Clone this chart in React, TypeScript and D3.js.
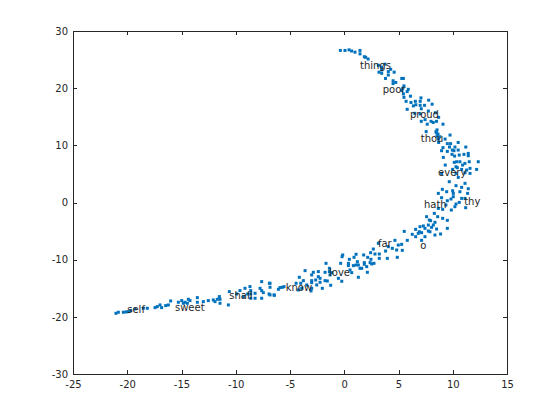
import React, { useEffect, useRef } from "react";
import * as d3 from "d3";

// word labels placed on the embedding
const words = ["things", "poor", "proud", "thou", "every", "hath", "thy", "far", "o", "love", "know", "shall", "sweet", "self"];
const wordX = [1.45, 3.55, 6.05, 7.05, 8.65, 7.35, 11.05, 3.1, 7, -1.4, -5.4, -10.6, -15.6, -20];
const wordY = [24, 19.7, 15.3, 11.2, 5.2, -0.4, 0.1, -7.2, -7.6, -12.3, -14.9, -16.3, -18.4, -18.8];

const xTicks = [-25, -20, -15, -10, -5, 0, 5, 10, 15];
const yTicks = [-30, -20, -10, 0, 10, 20, 30];

// scatter points, top of the arc first
const upperArm: [number, number][] = [
  [-0.36, 26.6], [0.07, 26.6], [0.44, 26.7], [0.68, 26.5], [0.99, 26.3], [1.45, 26.6], [1.45, 26.0], [1.85, 25.5],
  [1.97, 25.4], [2.2, 25.1], [3.14, 24.0], [3.45, 23.7], [3.75, 24.2], [3.45, 23.2], [4.28, 23.3], [3.2, 22.8],
  [3.45, 22.6], [4.06, 22.9], [4.06, 22.3], [4.6, 22.8], [3.8, 21.7], [5.3, 21.7], [5.45, 21.7], [4.5, 21.3],
  [4.5, 20.8], [4.75, 21.0], [5.5, 20.4], [5.4, 20.0], [5.9, 19.8], [5.8, 19.4], [5.3, 19.6], [5.45, 19.0],
  [5.5, 18.4], [6.1, 18.6], [5.7, 17.7], [6.15, 17.5], [6.55, 17.7], [7.07, 18.3], [7.0, 17.7], [7.78, 17.9],
  [8.1, 17.2], [6.37, 16.9], [6.6, 17.1], [7.0, 17.0], [7.4, 17.0], [7.1, 16.4], [5.8, 16.3], [6.5, 15.6],
  [7.0, 15.5], [7.75, 16.0], [8.4, 15.7], [8.7, 14.9], [7.45, 14.5], [7.1, 14.2], [8.0, 14.2], [8.2, 14.0],
  [8.5, 14.2], [7.65, 13.7], [9.1, 13.7], [7.55, 12.4], [8.55, 12.7], [8.5, 12.2], [9.75, 11.8], [8.55, 11.6],
  [8.7, 11.1], [9.3, 11.1], [8.7, 10.5], [9.5, 10.3], [9.8, 10.3], [10.5, 10.5], [9.1, 9.6], [9.7, 9.7],
  [10.2, 9.7], [11.2, 9.7],
];

const bend: [number, number][] = [
  [8.45, 12.38], [8.64, 11.97], [8.82, 11.5], [8.97, 9.06], [9.5, 8.94], [9.96, 9.17], [10.11, 9.06], [10.5, 9.17],
  [9.93, 8.42], [10.17, 8.12], [10.6, 8.3], [11.03, 8.42], [11.43, 8.59], [11.43, 8.18], [9.13, 7.89], [10.14, 7.02],
  [10.36, 7.13], [10.66, 7.13], [11.12, 6.84], [11.52, 7.13], [12.35, 7.13], [9.31, 6.55], [10.3, 6.26], [10.91, 6.55],
  [10.42, 6.08], [9.99, 5.79], [12.2, 5.79], [11.28, 5.68], [10.82, 5.79], [11.59, 5.97], [8.97, 5.09], [10.3, 5.09],
  [11.13, 5.21], [11.59, 5.09], [10.51, 4.39], [9.68, 3.64], [11.13, 3.35], [10.3, 2.94], [10.82, 2.65], [11.43, 2.41],
  [9.04, 2.3], [8.67, 1.6], [9.44, 1.89], [9.99, 2.06], [10.05, 1.6], [10.66, 1.89], [11.37, 1.6], [10.05, 1.01],
  [8.97, 0.84], [9.84, 0.61], [9.5, 0.31], [10.82, 0.72], [11.13, 0.72], [10.6, 0.02], [10.3, -0.27], [9.37, -0.44],
  [10.2, -0.73], [11.19, -0.91], [8.67, -1.03], [9.07, -1.2], [9.87, -1.32], [8.3, -1.9], [8.61, -2.48], [7.59, -2.48],
  [7.84, -3.07], [7.96, -3.18], [8.36, -3.47], [9.5, -3.12], [9.07, -2.77], [7.29, -4.11], [7.75, -3.94], [8.21, -3.94],
  [8.05, -4.35], [6.58, -4.7], [6.98, -4.23], [7.44, -4.52], [7.75, -4.99], [8.51, -4.64], [9.5, -4.52], [5.53, -5.05],
  [6.27, -5.57], [6.58, -5.98], [6.92, -5.11], [7.13, -5.28], [6.82, -5.4], [7.44, -5.98], [7.9, -5.11], [8.36, -5.69],
  [8.88, -5.51], [5.81, -6.62], [7.13, -6.62], [4.67, -6.62], [4.98, -7.44], [5.29, -7.32], [4.06, -7.73], [4.43, -8.02],
  [4.83, -8.31], [5.35, -8.37], [3.81, -8.49], [2.68, -8.14], [2.43, -8.78], [2.83, -9.01], [3.23, -9.01], [3.97, -9.77],
  [4.89, -9.59], [3.23, -9.77], [2.46, -9.94],
];

const lowerArm: [number, number][] = [
  [3.14, -7.14], [1.79, -9.18], [2.16, -9.59], [1.09, -9.06], [0.9, -9.59], [1.21, -10.35], [-0.14, -9.18], [-0.2, -9.47],
  [0.47, -9.94], [-0.33, -10.64], [0.38, -10.64], [0.38, -11.04], [0.84, -11.04], [1.09, -10.93], [1.3, -10.93], [1.45, -11.51],
  [1.61, -11.51], [1.85, -10.52], [1.85, -10.81], [2.07, -11.22], [2.38, -10.52], [2.53, -10.75], [2.74, -10.64], [2.13, -12.21],
  [-1.68, -10.64], [-1.37, -11.51], [-1.77, -12.21], [-2.39, -12.09], [-2.85, -12.21], [-3, -12.67], [-3.61, -11.92], [-4.14, -13.08],
  [-3.77, -13.67], [-3, -13.67], [-3, -14.02], [-2.63, -13.55], [-2.39, -12.97], [-2.23, -13.26], [-2.23, -13.96], [-1.77, -13.67],
  [-1.56, -13.73], [-1.31, -12.67], [-1.37, -12.09], [-0.54, -13.26], [-0.23, -13.78], [-1.25, -14.48], [-2.02, -15.01], [-2.54, -14.42],
  [-3, -15.01], [-3.06, -15.47], [-3.46, -14.42], [-4.01, -14.13], [-4.44, -14.13], [-3.92, -15.01], [-4.23, -15.3], [-5.7, -14.83],
  [-5.92, -14.89], [-5.55, -14.72], [-6.07, -15.18], [-6.44, -16.23], [-6.84, -14.13], [-6.84, -14.83], [-6.84, -16.17], [0.69, -12.27],
  [1.3, -13.08], [-1.16, -12.27], [0.53, -11.8],
];

const tail: [number, number][] = [
  [-21.04, -19.38], [-20.82, -19.2], [-20.36, -19.2], [-20.11, -19.14], [-19.9, -19.09], [-19.68, -18.9], [-19.28, -18.62], [-18.52, -18.5],
  [-18.15, -18.5], [-17.44, -18.39], [-17.23, -18.21], [-16.98, -17.92], [-16.83, -18.39], [-16.46, -18.04], [-16.21, -17.92], [-16, -17.22],
  [-15.29, -17.45], [-14.98, -17.16], [-14.83, -17.63], [-14.68, -17.45], [-14.37, -16.93], [-14.22, -17.16], [-14.46, -17.63], [-13.54, -16.64],
  [-13.54, -17.45], [-12.99, -17.34], [-12.53, -17.16], [-12.07, -17.05], [-11.91, -17.34], [-11.7, -16.93], [-11.51, -16.46], [-11.45, -16.93],
  [-11.45, -17.63], [-10.68, -17.92], [-10.59, -15.59], [-9.91, -16], [-9.61, -15.41], [-9.3, -16.46], [-9.15, -15.01], [-8.69, -14.71],
  [-8.62, -15.41], [-8.62, -16], [-8.62, -16.75], [-8.22, -16.75], [-8.22, -15.88], [-7.76, -15.01], [-7.61, -13.84], [-7.61, -15.41],
  [-7.61, -16.75], [-7.46, -15.76], [-6.9, -14.13], [-6.93, -16], [-6.47, -16.17], [-8.9, -16],
];

const width = 560;
const height = 420;
const marginTop = 31;
const marginRight = 53;
const marginBottom = 46;
const marginLeft = 73;
const inkColor = "#262626";

export default function App() {
  const ref = useRef<SVGSVGElement>(null);

  useEffect(() => {
    const svg = d3.select(ref.current);
    svg.selectAll("*").remove();

    const x = d3.scaleLinear().domain([-25, 15]).range([marginLeft, width - marginRight]);
    const y = d3.scaleLinear().domain([-30, 30]).range([height - marginBottom, marginTop]);

    const styleAxis = (g: any) => {
      g.selectAll("path,line").attr("stroke", inkColor).attr("shape-rendering", "crispEdges");
      g.selectAll("text").attr("fill", inkColor).attr("font-size", 10).attr("font-family", "DejaVu Sans");
    };

    // plain hyphen on the negative labels, like the original
    const plainLabel = (d: d3.NumberValue) => String(d);

    // box lines first, ticks pointing in on all four sides
    svg.append("g")
      .attr("transform", `translate(0,${height - marginBottom})`)
      .call(d3.axisBottom(x).tickValues(xTicks).tickFormat(plainLabel).tickSize(-4).tickPadding(6.5).tickSizeOuter(0))
      .call(styleAxis);
    svg.append("g")
      .attr("transform", `translate(${marginLeft},0)`)
      .call(d3.axisLeft(y).tickValues(yTicks).tickFormat(plainLabel).tickSize(-4).tickPadding(5).tickSizeOuter(0))
      .call(styleAxis);
    svg.append("g")
      .attr("transform", `translate(0,${marginTop})`)
      .call(d3.axisTop(x).tickValues(xTicks).tickFormat(() => "").tickSize(-4).tickSizeOuter(0))
      .call(styleAxis);
    svg.append("g")
      .attr("transform", `translate(${width - marginRight},0)`)
      .call(d3.axisRight(y).tickValues(yTicks).tickFormat(() => "").tickSize(-4).tickSizeOuter(0))
      .call(styleAxis);

    const points = [...upperArm, ...bend, ...lowerArm, ...tail];
    svg.append("g")
      .attr("fill", "#0072BD")
      .selectAll("rect")
      .data(points)
      .join("rect")
      .attr("x", (d) => x(d[0]) - 1.5)
      .attr("y", (d) => y(d[1]) - 1.5)
      .attr("width", 3)
      .attr("height", 3);

    svg.append("g")
      .attr("fill", inkColor)
      .attr("font-size", 10)
      .attr("font-family", "DejaVu Sans")
      .selectAll("text")
      .data(words)
      .join("text")
      .attr("x", (_, i) => x(wordX[i]))
      .attr("y", (_, i) => y(wordY[i]))
      .attr("dy", "0.32em")
      .text((d) => d);
  }, []);

  return (
    <svg
      ref={ref}
      width={width}
      height={height}
      style={{ position: "absolute", left: 0, top: 0, background: "#fff" }}
    />
  );
}
